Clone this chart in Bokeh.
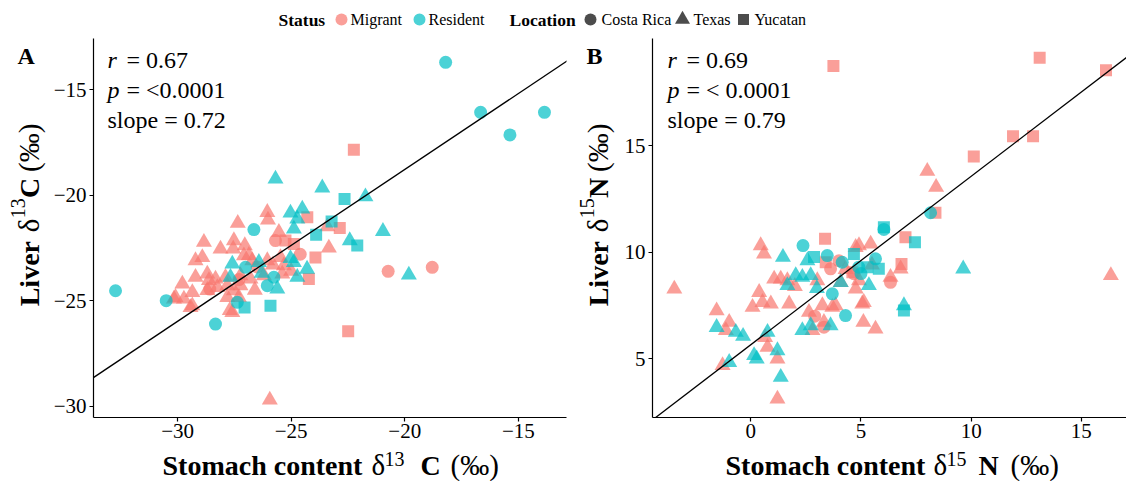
import math
from bokeh.plotting import figure
from bokeh.models import Range1d, FixedTicker, Label, Slope, ColumnDataSource
from bokeh.core.properties import value
from bokeh.layouts import column, row
from bokeh.embed import file_html
from bokeh.resources import INLINE

SERIF = "Liberation Serif"
STATUS_COLORS = {"Migrant": "#F8766D", "Resident": "#00BFC4"}
LOC_MARKERS = {"C": "circle", "T": "triangle", "Y": "square"}
LOC_SIZES = {"C": 13, "T": 16, "Y": 12}
LOC_NAMES = {"C": "Costa Rica", "T": "Texas", "Y": "Yucatan"}
ALPHA = 0.7
MID = 0.33   # distance from alphabetic baseline to text middle, in em

# ---------------- Panel A: carbon (stomach content vs liver d13C) ----------------
a_mig_x = [-26.05, -26.02, -27.35, -24.29, -22.86, -23.41, -25.54, -28.84, -27.52, -28.11,
           -27.04, -27.55, -25.69, -25.25, -24.88, -23.34, -23.93, -28.91, -29.21, -27.08,
           -26.71, -26.05, -25.47, -25.32, -28.69, -29.21, -28.33, -27.89, -27.23, -26.79,
           -26.20, -25.39, -24.22, -29.79, -29.35, -28.58, -28.25, -27.81, -27.23, -30.09,
           -29.72, -29.35, -27.81, -27.52, -27.30, -27.59, -22.49, -20.73, -18.79, -22.24,
           -25.94, -30.16, -29.43, -26.86, -28.62, -27.70, -28.69, -26.50, -25.00, -27.30,
           -26.60, -25.80, -24.60]
a_mig_y = [-20.81, -21.17, -21.33, -21.05, -21.55, -21.49, -21.76, -22.23, -22.15, -22.55,
           -22.39, -22.55, -22.15, -22.15, -22.31, -22.50, -22.95, -22.95, -23.10, -22.87,
           -23.10, -23.10, -22.95, -23.34, -23.73, -23.89, -23.97, -23.89, -23.81, -23.97,
           -23.81, -23.73, -23.97, -24.21, -24.61, -24.45, -24.37, -24.29, -24.29, -24.84,
           -24.92, -25.24, -24.84, -24.53, -24.84, -25.55, -26.45, -23.61, -23.42, -17.85,
           -29.71, -24.92, -25.32, -22.85, -24.04, -25.46, -24.51, -23.40, -23.60, -24.00,
           -24.50, -23.30, -22.80]
a_mig_loc = list("TTTYYTTTTT" "TTCYYTYTTT" "TTTTTTTTTT" "TTYTTCTTTT"
                 "TTTTTTYCCY" "TTTTTTTCTC" "TTC")

a_res_x = [-25.69, -23.63, -22.65, -21.73, -24.51, -25.03, -24.73, -24.88, -23.90, -23.22,
           -20.96, -22.42, -22.09, -26.64, -27.59, -27.01, -26.42, -27.67, -24.88, -24.73,
           -25.76, -26.05, -25.61, -27.05, -25.91, -27.37, -28.33, -30.50, -32.73, -18.20,
           -16.66, -13.85, -15.37, -19.82, -25.03, -24.30, -26.30]
a_res_y = [-19.23, -19.65, -20.18, -20.07, -20.65, -20.84, -21.12, -21.60, -21.87, -21.25,
           -21.71, -22.15, -22.39, -21.63, -23.26, -23.42, -23.18, -23.89, -23.18, -23.89,
           -23.89, -24.29, -24.44, -25.32, -25.24, -25.08, -26.11, -25.00, -24.53, -13.70,
           -16.07, -16.07, -17.14, -23.78, -23.00, -23.50, -23.70]
a_res_loc = list("TTYTTTTTYY" "TTYCTCTTTT" "CCTYYCCCCC" "CCCTTTT")

a_r = 0.67
a_p = "<0.0001"
a_slope = 0.72
a_intercept = -4.38
a_xticks = [-30, -25, -20, -15]
a_yticks = [-30, -25, -20, -15]

# ---------------- Panel B: nitrogen (stomach content vs liver d15N) ----------------
b_mig_x = [-3.47, 0.45, 0.60, 3.37, -1.55, -0.98, -1.13, -1.28, 0.38, 0.08,
           0.53, 0.91, 1.06, 1.36, 1.66, 1.74, 2.64, 3.25, 0.65, 0.76,
           1.21, 1.21, 2.80, 3.32, 3.32, 3.85, 4.08, 3.02, 3.40, 3.62,
           4.76, 4.91, 5.06, 4.61, 8.38, 7.02, 6.84, 6.80, 6.34, 6.34,
           5.13, 5.11, 5.66, 4.91, 5.44, 4.68, 4.76, 3.70, 13.11, 16.12,
           11.90, 12.81, 10.12, 8.01, 8.41, 3.75, 16.34, 2.00, 4.00, 5.50,
           2.90, 4.30]
b_mig_y = [8.28, 10.31, 9.92, 10.63, 7.26, 6.72, 6.33, 4.69, 8.12, 7.42,
           7.65, 7.58, 8.75, 8.75, 8.67, 7.58, 7.19, 7.50, 6.01, 5.55,
           5.00, 3.12, 6.33, 6.72, 6.48, 7.50, 8.59, 8.67, 9.53, 9.22,
           10.23, 8.67, 7.58, 9.06, 11.85, 10.70, 9.45, 9.22, 8.83, 8.59,
           7.65, 6.72, 6.40, 10.31, 10.39, 8.99, 8.28, 7.42, 19.12, 18.53,
           15.44, 15.44, 14.49, 13.80, 13.05, 18.73, 8.91, 8.40, 9.60, 9.40,
           7.00, 9.20]
b_mig_loc = list("TTTYTTTTTT" "TTTTTTTTTT" "TTTTCTTTYC" "TTTYYYYTTC"
                 "TTTTTCTTYY" "YYYTTYTTCT" "CT")

b_res_x = [2.37, 1.46, 2.57, 2.87, 3.47, 4.68, 4.15, 2.04, 2.34, 2.72,
           1.66, 3.70, 4.30, -1.55, -0.68, -0.35, 0.76, 0.15, 0.27, 1.21,
           -0.98, 1.36, 2.34, 2.72, 3.62, 8.16, 6.04, 6.04, 7.45, 9.64,
           6.95, 6.95, 5.29, 5.81, 5.66, 5.36, 4.08, 4.90, 3.00, 5.00]
b_res_y = [10.31, 9.77, 9.61, 9.77, 9.84, 9.92, 9.53, 8.91, 8.83, 8.91,
           8.44, 8.05, 7.03, 6.48, 6.25, 6.06, 6.25, 5.16, 5.00, 5.39,
           4.84, 4.14, 6.33, 6.56, 6.56, 11.85, 11.07, 11.17, 10.47, 9.22,
           7.50, 7.27, 9.30, 9.22, 9.69, 8.44, 8.59, 9.30, 8.30, 9.00]
b_res_loc = list("CTTYCYCTTT" "TCCTTTTTTT" "TTTTTCCYYT" "TYYYCTTCTC")

b_r = 0.69
b_p = "< 0.0001"
b_slope = 0.79
b_intercept = 5.66
b_xticks = [0, 5, 10, 15]
b_yticks = [5, 10, 15]

status_labels = ["Migrant", "Resident"]
location_codes = ["C", "T", "Y"]

# ---------------- layout (window pixels) ----------------
LEGEND_H = 38
PANEL_TOP = LEGEND_H
PANEL_H = 409          # frame (379 px) + x tick label band
TITLE_TOP = PANEL_TOP + PANEL_H
TITLE_H = 481 - TITLE_TOP
YSTRIP_W = 48


def build_source(groups):
    cols = dict(x=[], y=[], color=[], marker=[], size=[])
    for status, gx, gy, gloc in groups:
        assert len(gx) == len(gy) == len(gloc)
        for x, y, loc in zip(gx, gy, gloc):
            cols["x"].append(x)
            cols["y"].append(y)
            cols["color"].append(STATUS_COLORS[status])
            cols["marker"].append(LOC_MARKERS[loc])
            cols["size"].append(LOC_SIZES[loc])
    return ColumnDataSource(cols)


def tick_text(t):
    return "\u2212%g" % (-t) if t < 0 else "%g" % t


def strip(ox, oy, w, h):
    """Axis-free figure used to hold free text; its data units are pixels."""
    s = figure(width=w, height=h, x_range=Range1d(0, w), y_range=Range1d(0, h),
               output_backend="svg", toolbar_location=None,
               x_axis_location=None, y_axis_location=None, min_border=0)
    s.grid.visible = False
    s.outline_line_color = None

    def put(txt, wx, wy, size, style="normal", vertical=False, centred=False):
        # (wx, wy): start of the alphabetic baseline in window pixels
        if vertical:
            wx -= MID * size
        elif not centred:
            wy -= MID * size
        s.text(x=[wx - ox], y=[oy + h - wy], text=[txt], text_font=value(SERIF),
               text_font_size=value("%gpx" % size), text_font_style=style,
               text_color="black", text_align="left", text_baseline="middle",
               angle=math.pi / 2 if vertical else 0.0)

    return s, put


def make_panel(fig_left, width, frame, x_span, y_span, xticks, yticks):
    fl, ft, fr, fb = frame
    p = figure(width=width, height=PANEL_H,
               x_range=Range1d(*x_span), y_range=Range1d(*y_span),
               output_backend="svg", toolbar_location=None,
               min_border_left=fl - fig_left, min_border_right=fig_left + width - fr,
               min_border_top=ft - PANEL_TOP, min_border_bottom=PANEL_TOP + PANEL_H - fb)
    p.grid.visible = False
    p.outline_line_color = None
    for ax, ticks in ((p.xaxis[0], xticks), (p.yaxis[0], yticks)):
        ax.ticker = FixedTicker(ticks=ticks)
        ax.major_label_overrides = {t: tick_text(t) for t in ticks}
        ax.major_label_text_font = SERIF
        ax.major_label_text_font_size = "21px"
        ax.major_label_text_color = "black"
        ax.axis_line_color = "black"
        ax.axis_line_width = 1.2
        ax.major_tick_line_color = "black"
        ax.major_tick_line_width = 1.2
        ax.major_tick_out = 4
        ax.major_tick_in = 0
        ax.minor_tick_line_color = None
        ax.major_label_standoff = 3
    p.xaxis[0].major_label_standoff = 2

    def note(s, wx, wy, size, style="normal"):
        # statistics text inside the plotting frame; wy is the baseline in window pixels
        wy -= MID * size
        x = x_span[0] + (wx - fl) / (fr - fl) * (x_span[1] - x_span[0])
        y = y_span[0] + (fb - wy) / (fb - ft) * (y_span[1] - y_span[0])
        p.add_layout(Label(x=x, y=y, text=s, text_font=SERIF, text_font_size="%gpx" % size,
                           text_font_style=style, text_color="black", text_align="left",
                           text_baseline="middle"))

    return p, note


def stats_block(note, dx, r, pval, slope):
    note("r", 107 + dx, 67, 24, "italic")
    note("= %.2f" % r, 126 + dx, 67, 24)
    note("p", 107 + dx, 97, 24, "italic")
    note("= %s" % pval, 126 + dx, 97, 24)
    note("slope = %.2f" % slope, 107 + dx, 127, 24)


def y_title(put, dx, tag, element, sup):
    put(tag, 17 + dx, 65, 24, "bold")
    put("Liver", 38 + dx, 327, 28, "bold", vertical=True)
    put("\u03b4", 38 + dx, 247, 29, "normal", vertical=True)
    put(sup, 24.5 + dx, 232, 20, "normal", vertical=True)
    put(element, 38 + dx, 210, 28, "bold", vertical=True)
    put("(\u2030)", 38 + dx, 182, 29, "normal", vertical=True)


def x_title(put, x0, element, sup, d_x, sup_x, el_x, pm_x):
    put("Stomach content", x0, 474, 28, "bold")
    put("\u03b4", d_x, 474, 29)
    put(sup, sup_x, 465, 20)
    put(element, el_x, 474, 28, "bold")
    put("(\u2030)", pm_x, 474, 29)


# ---------------- Panel A ----------------
pa, note_a = make_panel(YSTRIP_W, 570 - YSTRIP_W, (93, 38, 566, 417), (-33.70, -12.88),
                        (-30.54, -12.57), a_xticks, a_yticks)
pa.scatter("x", "y", source=build_source([("Migrant", a_mig_x, a_mig_y, a_mig_loc),
                                          ("Resident", a_res_x, a_res_y, a_res_loc)]),
           marker="marker", size="size", fill_color="color", fill_alpha=ALPHA,
           line_color=None)
pa.add_layout(Slope(gradient=a_slope, y_intercept=a_intercept, line_color="black",
                    line_width=1.3))
stats_block(note_a, 0, a_r, a_p, a_slope)

ya, put_ya = strip(0, PANEL_TOP, YSTRIP_W, PANEL_H)
y_title(put_ya, 0, "A", "C", "13")
xa, put_xa = strip(0, TITLE_TOP, 570, TITLE_H)
x_title(put_xa, 162, "C", "13", 371, 384, 420, 450)

# ---------------- Panel B ----------------
pb, note_b = make_panel(570 + YSTRIP_W, 556 - YSTRIP_W, (652, 38, 1126, 417), (-4.46, 17.05),
                        (2.25, 20.02), b_xticks, b_yticks)
pb.scatter("x", "y", source=build_source([("Migrant", b_mig_x, b_mig_y, b_mig_loc),
                                          ("Resident", b_res_x, b_res_y, b_res_loc)]),
           marker="marker", size="size", fill_color="color", fill_alpha=ALPHA,
           line_color=None)
pb.add_layout(Slope(gradient=b_slope, y_intercept=b_intercept, line_color="black",
                    line_width=1.3))
stats_block(note_b, 560, b_r, b_p, b_slope)

yb, put_yb = strip(570, PANEL_TOP, YSTRIP_W, PANEL_H)
y_title(put_yb, 569, "B", "N", "15")
xb, put_xb = strip(570, TITLE_TOP, 556, TITLE_H)
x_title(put_xb, 725, "N", "15", 933, 946, 978, 1010)

# ---------------- Legend strip ----------------
lg, put_lg = strip(0, 0, 1126, LEGEND_H)
LEG_Y = 19
put_lg("Status", 278, LEG_Y, 17.5, "bold", centred=True)
for label, kx in zip(status_labels, [341, 419]):
    lg.scatter([kx], [LEGEND_H - LEG_Y], marker="circle", size=12,
               fill_color=STATUS_COLORS[label], fill_alpha=ALPHA, line_color=None)
    put_lg(label, kx + 9, LEG_Y, 16, centred=True)
put_lg("Location", 509, LEG_Y, 17.5, "bold", centred=True)
for code, kx in zip(location_codes, [590, 682, 743]):
    lg.scatter([kx], [LEGEND_H - LEG_Y], marker=LOC_MARKERS[code], size=LOC_SIZES[code] - 1,
               fill_color="black", fill_alpha=ALPHA, line_color=None)
    put_lg(LOC_NAMES[code], kx + 11, LEG_Y, 16, centred=True)

layout = column(lg, row(ya, pa, yb, pb, spacing=0), row(xa, xb, spacing=0), spacing=0)
open("out.html", "w").write(file_html(layout, INLINE))
